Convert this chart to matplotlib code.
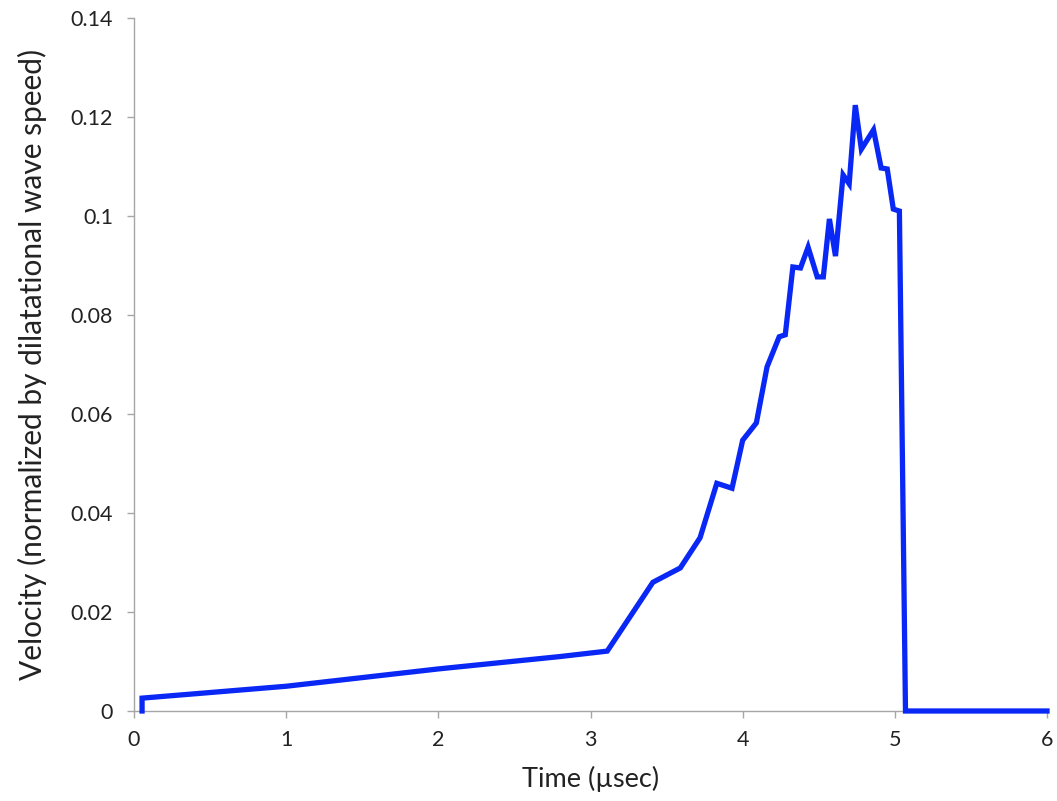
import matplotlib
matplotlib.use("Agg")
import matplotlib.pyplot as plt

plt.rcParams['font.family'] = ['Lato', 'DejaVu Sans']

# Time (µsec) and normalized particle velocity
time_us = [0.053, 0.053, 1.0, 2.0, 2.8, 3.11, 3.41, 3.59, 3.72, 3.83, 3.93,
           4.00, 4.09, 4.16, 4.24, 4.28, 4.33, 4.38, 4.43, 4.49, 4.53, 4.57,
           4.61, 4.66, 4.70, 4.74, 4.78, 4.86, 4.91, 4.95, 4.99, 5.03, 5.07,
           6.0]
velocity = [0.0, 0.0026, 0.005, 0.0085, 0.011, 0.0121, 0.026, 0.0289, 0.035,
            0.046, 0.045, 0.0547, 0.0582, 0.0695, 0.0756, 0.076, 0.0897,
            0.0895, 0.0937, 0.0877, 0.0877, 0.0994, 0.0919, 0.1083, 0.1065,
            0.1224, 0.1135, 0.1174, 0.1097, 0.1095, 0.1014, 0.101, 0.0, 0.0]

x_ticks = [0, 1, 2, 3, 4, 5, 6]
y_ticks = [0, 0.02, 0.04, 0.06, 0.08, 0.1, 0.12, 0.14]
y_labels = ['0', '0.02', '0.04', '0.06', '0.08', '0.1', '0.12', '0.14']

fig = plt.figure(figsize=(10.57, 8.01), dpi=100)
ax = fig.add_axes([134 / 1057, 1 - 711 / 801, 913 / 1057, 693 / 801])

ax.plot(time_us, velocity, color='#0A28F5', linewidth=3.8,
        solid_joinstyle='miter', clip_on=False, zorder=3)

ax.set_xlim(0, 6)
ax.set_ylim(0, 0.14)
ax.set_xticks(x_ticks)
ax.set_yticks(y_ticks)
ax.set_yticklabels(y_labels)

for side in ('top', 'right'):
    ax.spines[side].set_visible(False)
for side in ('left', 'bottom'):
    ax.spines[side].set_color('#A6A6A6')
    ax.spines[side].set_linewidth(1.0)

ax.tick_params(axis='both', direction='out', length=5, width=1.0,
               color='#A6A6A6', labelsize=15.5, labelcolor='#222222')
ax.tick_params(axis='x', pad=9)
ax.tick_params(axis='y', pad=10)

ax.set_xlabel('Time (µsec)', fontsize=19.5, color='#222222', labelpad=11)
ax.set_ylabel('Velocity (normalized by dilatational wave speed)', fontsize=21.5,
              color='#222222', labelpad=17)

fig.savefig('out.png', dpi=100, facecolor='white')
